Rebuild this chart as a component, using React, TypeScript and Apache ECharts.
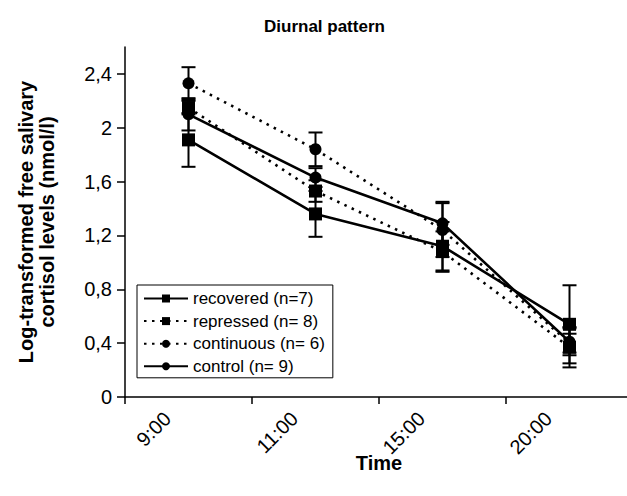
import React, { useEffect, useRef } from "react";
import * as echarts from "echarts";

const times = ["9:00", "11:00", "15:00", "20:00"];
const recovered = [1.91, 1.36, 1.12, 0.54];
const recoveredErr = [0.2, 0.17, 0.18, 0.29];
const repressed = [2.15, 1.53, 1.08, 0.37];
const repressedErr = [0.05, 0.08, 0.15, 0.15];
const continuous = [2.33, 1.84, 1.24, 0.4];
const continuousErr = [0.12, 0.125, 0.2, 0.07];
const control = [2.1, 1.63, 1.29, 0.41];
const controlErr = [0.12, 0.07, 0.16, 0.1];
const yTicks = [0, 0.4, 0.8, 1.2, 1.6, 2, 2.4];
const legendNames = ["recovered (n=7)", "repressed (n= 8)", "continuous (n= 6)", "control (n= 9)"];

const FONT = "'Liberation Sans', Arial, sans-serif";

function errSeries(name: string, vals: number[], errs: number[]) {
  return {
    type: "custom",
    name,
    silent: true,
    z: 1,
    data: vals.map((v, i) => [i, v - errs[i], v + errs[i]]),
    encode: { x: 0, y: [1, 2] },
    renderItem: (_params: any, api: any) => {
      const i = api.value(0);
      const lo = api.coord([i, api.value(1)]);
      const hi = api.coord([i, api.value(2)]);
      const w = 7;
      const style = { stroke: "#000", lineWidth: 2 };
      return {
        type: "group",
        children: [
          { type: "line", shape: { x1: lo[0], y1: lo[1], x2: hi[0], y2: hi[1] }, style },
          { type: "line", shape: { x1: lo[0] - w, y1: lo[1], x2: lo[0] + w, y2: lo[1] }, style },
          { type: "line", shape: { x1: hi[0] - w, y1: hi[1], x2: hi[0] + w, y2: hi[1] }, style },
        ],
      };
    },
  };
}

function lineSeries(name: string, vals: number[], symbol: string, size: number, dotted: boolean) {
  return {
    type: "line",
    name,
    data: vals,
    symbol,
    symbolSize: size,
    z: 3,
    itemStyle: { color: "#000" },
    lineStyle: { color: "#000", width: 2.6, type: dotted ? [2.5, 5.5] : "solid" },
  };
}

export default function App() {
  const ref = useRef<HTMLDivElement>(null);
  useEffect(() => {
    if (!ref.current) return;
    const chart = echarts.init(ref.current, null, { renderer: "svg" });
    chart.setOption({
      animation: false,
      backgroundColor: "#fff",
      textStyle: { fontFamily: FONT, color: "#000" },
      title: {
        text: "Diurnal pattern",
        left: 259,
        top: 13,
        textStyle: { fontSize: 17, fontWeight: "bold", color: "#000", fontFamily: FONT },
      },
      legend: {
        orient: "vertical",
        left: 137,
        top: 285,
        data: legendNames,
        borderColor: "#000",
        borderWidth: 1,
        backgroundColor: "#fff",
        padding: [5, 8, 3, 6],
        itemWidth: 44,
        itemHeight: 10,
        itemGap: 5.6,
        textStyle: { fontSize: 17, color: "#000", fontFamily: FONT, lineHeight: 17 },
      },
      grid: { left: 125, top: 47, width: 508, bottom: 99, outerBoundsMode: "none" },
      xAxis: {
        type: "category",
        data: times,
        boundaryGap: true,
        name: "Time",
        nameLocation: "middle",
        nameGap: 56,
        nameMoveOverlap: false,
        nameTextStyle: { fontSize: 20, fontWeight: "bold", color: "#000", fontFamily: FONT },
        axisLine: { lineStyle: { color: "#000", width: 1.5 } },
        axisTick: { show: true, length: 7, lineStyle: { color: "#000", width: 1.5 } },
        axisLabel: {
          rotate: 45,
          fontSize: 20,
          color: "#000",
          fontFamily: FONT,
          margin: -3,
          padding: [0, 30, 0, 0],
        },
        splitLine: { show: false },
      },
      yAxis: {
        type: "value",
        min: 0,
        max: 2.6,
        name: "Log-transformed free salivary\ncortisol levels (nmol/l)",
        nameLocation: "middle",
        nameGap: 68,
        nameMoveOverlap: false,
        nameTextStyle: { fontSize: 20, fontWeight: "bold", color: "#000", fontFamily: FONT, lineHeight: 21 },
        axisLine: { show: true, lineStyle: { color: "#000", width: 1.5 } },
        axisTick: { show: true, length: 8, customValues: yTicks, lineStyle: { color: "#000", width: 1.5 } },
        axisLabel: {
          customValues: yTicks,
          fontSize: 20,
          color: "#000",
          fontFamily: FONT,
          margin: 13,
          formatter: (v: number) => String(v).replace(".", ","),
        },
        splitLine: { show: false },
      },
      series: [
        errSeries("err-recovered", recovered, recoveredErr),
        errSeries("err-repressed", repressed, repressedErr),
        errSeries("err-continuous", continuous, continuousErr),
        errSeries("err-control", control, controlErr),
        lineSeries(legendNames[0], recovered, "rect", 13, false),
        lineSeries(legendNames[1], repressed, "rect", 13, true),
        lineSeries(legendNames[2], continuous, "circle", 12, true),
        lineSeries(legendNames[3], control, "circle", 12, false),
      ],
    });
    return () => chart.dispose();
  }, []);
  return <div ref={ref} style={{ width: 627, height: 496, position: "absolute", left: 0, top: 0 }} />;
}
